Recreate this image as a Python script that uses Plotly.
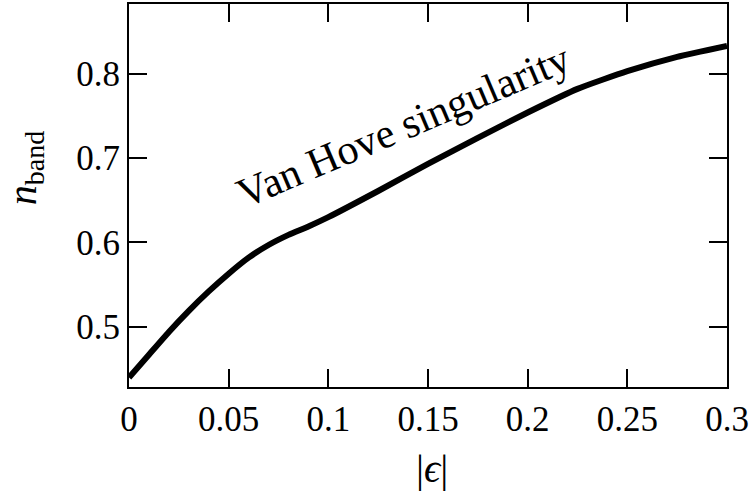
import plotly.graph_objects as go

eps = [0, 0.01, 0.02, 0.03, 0.04, 0.05, 0.06, 0.07, 0.08, 0.09, 0.10,
       0.125, 0.15, 0.175, 0.20, 0.225, 0.25, 0.275, 0.30]
n_band = [0.440, 0.467, 0.494, 0.519, 0.542, 0.563, 0.582, 0.597, 0.609, 0.619, 0.630,
          0.661, 0.693, 0.724, 0.754, 0.782, 0.803, 0.820, 0.833]

x_ticks = [0, 0.05, 0.1, 0.15, 0.2, 0.25, 0.3]
x_ticklabels = ["0", "0.05", "0.1", "0.15", "0.2", "0.25", "0.3"]
y_ticks = [0.5, 0.6, 0.7, 0.8]
y_ticklabels = ["0.5", "0.6", "0.7", "0.8"]

FONT = "Liberation Serif"

fig = go.Figure()
fig.add_trace(go.Scatter(x=eps, y=n_band, mode="lines",
                         line=dict(color="black", width=6, shape="spline", smoothing=0.5),
                         showlegend=False, hoverinfo="skip"))

fig.add_annotation(x=0.1375, y=0.7377, xref="x", yref="y",
                   text="Van Hove singularity", showarrow=False, textangle=-23,
                   font=dict(family=FONT, size=42, color="black"))

# axis titles as annotations for precise placement
fig.add_annotation(x=(432 - 129) / 598, y=0, xref="paper", yref="paper",
                   yanchor="middle", yshift=-81,
                   text="|<i>ϵ</i>|", showarrow=False,
                   font=dict(family=FONT, size=40, color="black"))
fig.add_annotation(x=0, y=(387 - 167) / 385, xref="paper", yref="paper",
                   xanchor="center", xshift=-104,
                   text="<i>n</i><sub>band</sub>", showarrow=False, textangle=-90,
                   font=dict(family=FONT, size=40, color="black"))

axis_common = dict(showline=True, linecolor="black", linewidth=2, mirror="ticks",
                   ticks="inside", ticklen=18, tickwidth=2, tickcolor="black",
                   showgrid=False, zeroline=False,
                   tickfont=dict(family=FONT, size=35, color="black"))

fig.update_xaxes(range=[0, 0.3], tickvals=x_ticks, ticktext=x_ticklabels, **axis_common)
fig.update_yaxes(range=[0.4287, 0.8826], tickvals=y_ticks, ticktext=y_ticklabels, **axis_common)

fig.update_layout(width=754, height=492,
                  margin=dict(l=129, r=27, t=2, b=105),
                  plot_bgcolor="white", paper_bgcolor="white")

fig.write_html("out.html")
